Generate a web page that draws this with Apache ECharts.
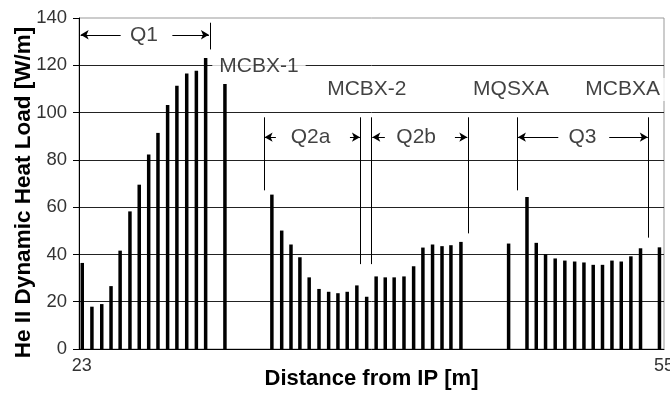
<!DOCTYPE html>
<html>
<head>
<meta charset="utf-8">
<script src="https://cdn.jsdelivr.net/npm/echarts@6/dist/echarts.min.js"></script>
<style>html,body{margin:0;padding:0;background:#fff}#c{width:670px;height:393px}</style>
</head>
<body>
<div id="c"></div>
<script>
// Distance from IP [m] of each bar
const distances = [23.03,23.56,24.10,24.61,25.11,25.65,26.16,26.68,27.19,27.72,28.23,28.77,29.30,29.81,30.87,
  33.45,33.99,34.50,34.99,35.50,36.04,36.57,37.08,37.59,38.12,38.66,
  39.18,39.68,40.17,40.71,41.24,41.75,42.28,42.80,43.29,43.84,
  46.46,47.47,47.98,48.49,49.02,49.55,50.09,50.60,51.11,51.62,52.14,52.65,53.18,53.71,54.75];
// He II dynamic heat load [W/m]
const heatLoad = [36.4,17.9,19.0,26.6,41.6,58.2,69.5,82.3,91.4,103.2,111.3,116.5,117.7,123.1,112.1,
  65.3,50.1,44.2,38.8,30.3,25.4,24.2,23.6,24.2,26.9,22.1,
  30.7,30.3,30.3,30.7,35.0,42.9,44.2,43.5,43.9,45.3,
  44.6,64.3,44.9,40.1,38.3,37.4,37.0,36.6,35.6,35.6,37.4,37.0,39.2,42.6,43.0];
const xTickLabels = [23, 55];
const yTicks = [0, 20, 40, 60, 80, 100, 120, 140];

// annotations in data units: [x, yBottom, yTop]
const boundaryLines = [[30.09,126.7,138.0],[33.01,67.1,98.0],[38.33,35.9,98.0],[38.93,35.9,98.0],
  [44.24,48.9,98.0],[46.93,67.1,98.0],[54.15,47.1,98.0]];
// arrows: [xTip, xTail, y]
const arrowSegs = [[22.94,25.14,132.9],[29.99,27.98,132.9],
  [33.05,33.67,89.6],[38.29,37.74,89.6],
  [38.97,39.66,89.6],[44.19,43.51,89.6],
  [46.97,49.19,89.6],[54.11,51.99,89.6]];
// labels: [text, x, y]
const annotLabels = [['Q1',26.42,132.9],['MCBX-1',32.74,119.8],['MCBX-2',38.67,109.8],
  ['MQSXA',46.59,109.8],['MCBXA',52.73,109.8],['Q2a',35.58,89.6],['Q2b',41.38,89.6],['Q3',50.52,89.6]];

const FONT = 'Liberation Sans, Arial, sans-serif';
const chart = echarts.init(document.getElementById('c'), null, {renderer:'canvas'});

const mlData = [];
boundaryLines.forEach(l => mlData.push([{coord:[l[0],l[1]],symbol:'none'},{coord:[l[0],l[2]],symbol:'none'}]));
arrowSegs.forEach(a => mlData.push([{coord:[a[0],a[2]],symbol:'arrow',symbolSize:[7,8]},{coord:[a[1],a[2]],symbol:'none'}]));

const BAR_W = 3.5;
chart.setOption({
  animation:false,
  grid:{left:79,right:6,top:18,bottom:44,outerBoundsMode:'none',containLabel:false,
    show:true,borderColor:'#999',borderWidth:1,backgroundColor:'transparent'},
  xAxis:{type:'value',min:22.85,max:55,
    name:'Distance from IP [m]',nameLocation:'middle',nameGap:19,nameMoveOverlap:false,
    nameTextStyle:{fontFamily:FONT,fontWeight:'bold',fontSize:22,color:'#000'},
    axisLine:{show:true,lineStyle:{color:'#000',width:1}},
    axisTick:{show:false},
    splitLine:{show:false},
    axisLabel:{customValues:xTickLabels,fontFamily:FONT,fontSize:18,color:'#333',margin:8}
  },
  yAxis:{type:'value',min:yTicks[0],max:yTicks[yTicks.length-1],interval:20,
    name:'He II Dynamic Heat Load [W/m]',nameLocation:'middle',nameGap:44,nameMoveOverlap:false,
    nameTextStyle:{fontFamily:FONT,fontWeight:'bold',fontSize:22.5,color:'#000',padding:[0,18,0,0]},
    axisLine:{show:true,lineStyle:{color:'#000',width:1}},
    axisTick:{show:true,length:6,lineStyle:{color:'#000'}},
    axisLabel:{fontFamily:FONT,fontSize:18.5,color:'#333',margin:12},
    splitLine:{show:true,showMinLine:false,showMaxLine:false,lineStyle:{color:'#222',width:1}}
  },
  series:[
    {type:'custom',data:distances.map((d,i)=>[d,heatLoad[i]]),silent:true,z:3,
     renderItem:function(params, api){
       const top = api.coord([api.value(0), api.value(1)]);
       const bot = api.coord([api.value(0), 0]);
       return {type:'rect',shape:{x:top[0]-BAR_W/2,y:top[1],width:BAR_W,height:bot[1]-top[1]},
         style:{fill:'#000'}};
     },
     markLine:{silent:true,animation:false,label:{show:false},
       lineStyle:{color:'#000',width:1,type:'solid'},symbol:['none','none'],data:mlData}
    },
    {type:'scatter',data:annotLabels.map(a=>({value:[a[1],a[2]],name:a[0]})),symbolSize:0,silent:true,z:5,
     label:{show:true,position:'inside',formatter:p=>p.name,fontFamily:FONT,fontSize:21,color:'#111',
       backgroundColor:'#fff',padding:[1,7,1,7]}
    }
  ]
});
</script>
</body>
</html>
